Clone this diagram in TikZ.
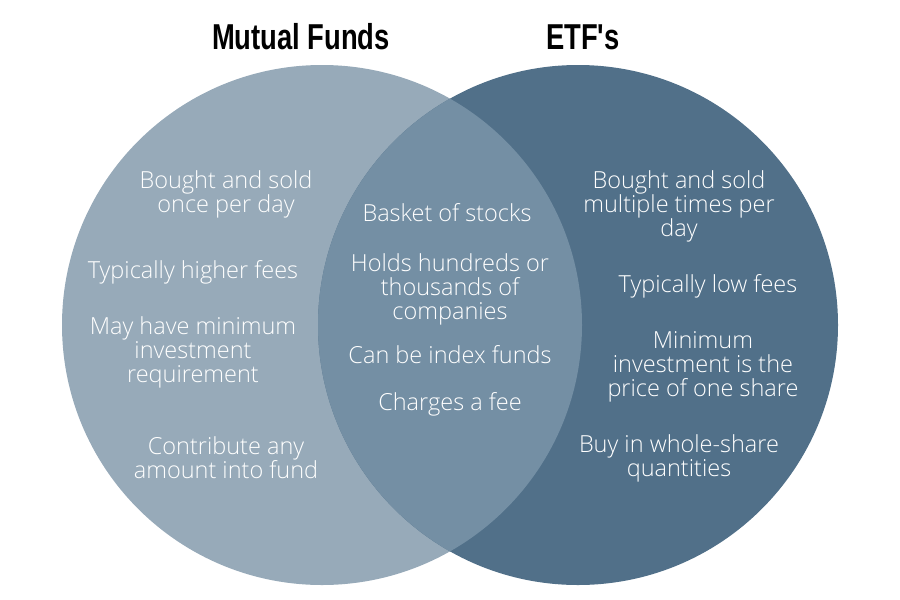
\documentclass[tikz,border=0pt]{standalone}
\usepackage{fontspec}
\setmainfont{Open Sans}[UprightFont=* Light]
\newfontfamily\titlefont[FakeStretch=0.76]{Liberation Sans}
\usepackage{xcolor}
\definecolor{mfcol}{RGB}{151,170,185}
\definecolor{etfcol}{RGB}{81,112,137}
\definecolor{bothcol}{RGB}{116,143,164}
\tikzset{
  item/.style={align=center, text=white, font=\fontsize{23.5}{24}\selectfont, inner sep=0pt},
  heading/.style={font=\titlefont\bfseries\fontsize{36}{40}\selectfont, inner sep=0pt}
}

\begin{document}
\begin{tikzpicture}[x=1pt,y=-1pt]
            \useasboundingbox (0,0) rectangle (900,600);
            \fill[mfcol] (322,325) circle (260);
            \fill[etfcol] (578,325) circle (260);
            \begin{scope}
              \clip (322,325) circle (260);
              \fill[bothcol] (578,325) circle (260);
            \end{scope}
            \node[heading](mf) at (301,37){Mutual Funds};
            \node[heading](etf) at (583,37){ETF's};
            \node[item](mfA) at (226,194){Bought and sold\\once per day};
            \node[item](mfB) at (193,272){Typically higher fees};
            \node[item](mfC) at (193,352){May have minimum\\investment\\requirement};
            \node[item](mfD) at (226,458){Contribute any\\amount into fund};
            \node[item](bothA) at (447,213){Basket of stocks};
            \node[item](bothB) at (450,289){Holds hundreds or\\thousands of\\companies};
            \node[item](bothC) at (450,355){Can be index funds};
            \node[item](bothD) at (450,404){Charges a fee};
            \node[item](etfA) at (679,206){Bought and sold\\multiple times per\\day};
            \node[item](etfB) at (708,286){Typically low fees};
            \node[item](etfC) at (703,367){Minimum\\investment is the\\price of one share};
            \node[item](etfD) at (679,458){Buy in whole-share\\quantities};
        \end{tikzpicture}
\end{document}
